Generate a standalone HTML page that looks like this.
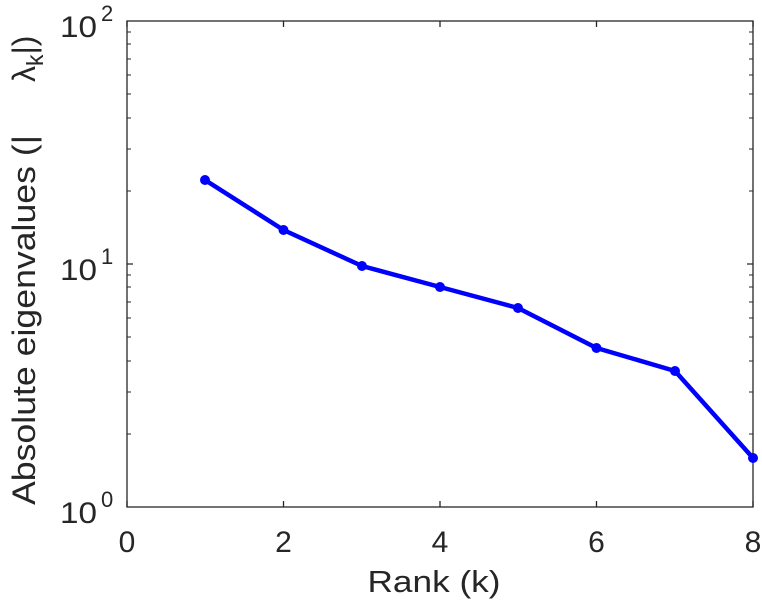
<!DOCTYPE html>
<html><head><style>body{margin:0;background:#fff}svg{display:block}</style></head><body>
<svg width="762" height="600" xmlns="http://www.w3.org/2000/svg" font-family="Liberation Sans, sans-serif" fill="#262626">
<rect width="762" height="600" fill="#fff"/>
<g stroke="#262626" stroke-width="1.3" fill="none">
<rect x="127" y="21" width="626" height="486"/>
<path d="M127 507v-6M283.5 507v-6M440 507v-6M596.5 507v-6M753 507v-6M127 21v6M283.5 21v6M440 21v6M596.5 21v6M753 21v6"/>
<path d="M127 264h6M753 264h-6"/>
</g>
<g stroke="#262626" stroke-width="1.1">
<path d="M127 434h4M127 392h4M127 361h4M127 337h4M127 318h4M127 302h4M127 287h4M127 275h4
M753 434h-4M753 392h-4M753 361h-4M753 337h-4M753 318h-4M753 302h-4M753 287h-4M753 275h-4
M127 191h4M127 149h4M127 118h4M127 94h4M127 75h4M127 59h4M127 44h4M127 32h4
M753 191h-4M753 149h-4M753 118h-4M753 94h-4M753 75h-4M753 59h-4M753 44h-4M753 32h-4"/>
</g>
<polyline points="205,180 283.5,230 362,266 440,287 518,308 596.5,348 675,371 753,458" fill="none" stroke="#0000ff" stroke-width="4.5" stroke-linejoin="round"/>
<g fill="#0000ff">
<circle cx="205" cy="180" r="5"/><circle cx="283.5" cy="230" r="5"/><circle cx="362" cy="266" r="5"/><circle cx="440" cy="287" r="5"/><circle cx="518" cy="308" r="5"/><circle cx="596.5" cy="348" r="5"/><circle cx="675" cy="371" r="5"/><circle cx="753" cy="458" r="5"/>
</g>
<g font-size="30" text-anchor="middle">
<text x="127" y="552">0</text><text x="283.5" y="552">2</text><text x="440" y="552">4</text><text x="596.5" y="552">6</text><text x="753" y="552">8</text>
<text x="434" y="592" font-size="31" textLength="133" lengthAdjust="spacingAndGlyphs">Rank (k)</text>
</g>
<g font-size="30">
<text x="60" y="523" textLength="37" lengthAdjust="spacingAndGlyphs">10</text><text x="101" y="507" font-size="22">0</text>
<text x="60" y="280" textLength="37" lengthAdjust="spacingAndGlyphs">10</text><text x="101" y="264" font-size="22">1</text>
<text x="60" y="37" textLength="37" lengthAdjust="spacingAndGlyphs">10</text><text x="101" y="21" font-size="22">2</text>
</g>
<g font-size="32" transform="rotate(-90)">
<text x="-505" y="35" textLength="370" lengthAdjust="spacingAndGlyphs">Absolute eigenvalues (|</text>
<text x="-82" y="35">λ<tspan font-size="23" dy="8">k</tspan><tspan dy="-8">|)</tspan></text>
</g>
</svg>
</body></html>
